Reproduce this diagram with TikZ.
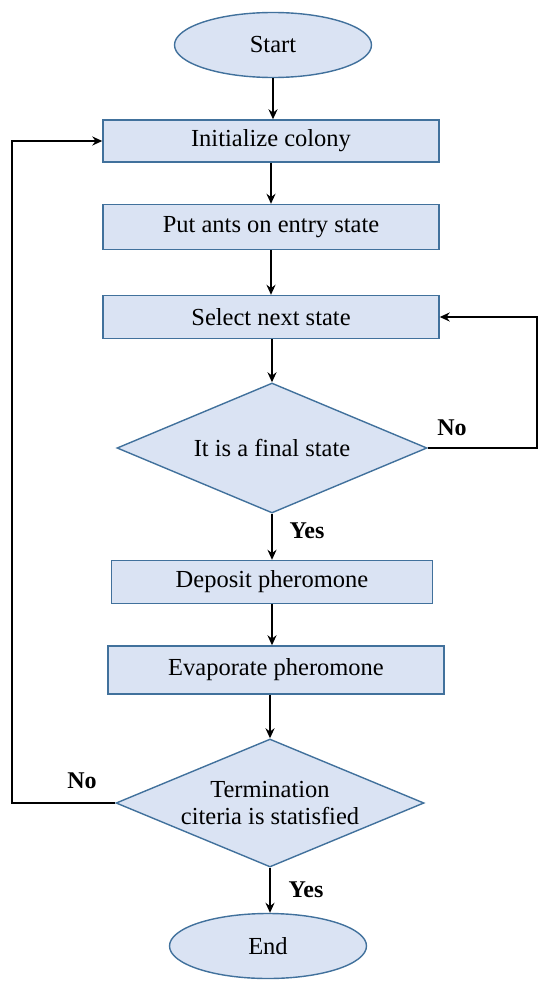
\documentclass[tikz,border=0pt]{standalone}
\usepackage{fontspec}
\setmainfont{Liberation Serif}
\usetikzlibrary{shapes.geometric,arrows.meta}
\definecolor{boxfill}{HTML}{DAE3F3}
\definecolor{boxline}{RGB}{65,113,156}
\begin{document}
\begin{tikzpicture}[x=1pt,y=-1pt,
  every node/.style={font=\fontsize{24.5}{27}\selectfont},
  procbox/.style={draw=boxline,fill=boxfill,line width=1.4pt,rectangle,inner sep=0pt},
  termnode/.style={draw=boxline,fill=boxfill,line width=1.4pt,ellipse,inner sep=0pt,minimum width=197pt,minimum height=65pt},
  decnode/.style={draw=boxline,fill=boxfill,line width=1.4pt,diamond,aspect=2.385,inner sep=0pt,align=center},
  arr/.style={draw=black,line width=2.2pt,-{Stealth[length=10pt,width=9pt]}},
  lbl/.style={font=\fontsize{24}{27}\selectfont\bfseries}]
\useasboundingbox (0,0) rectangle (550,987);
\node[termnode] (start) at (273,45) {Start};
\node[procbox,minimum width=336pt,minimum height=42pt] (init) at (271,141) {Initialize colony};
\node[procbox,minimum width=336pt,minimum height=45pt] (put) at (271,227) {Put ants on entry state};
\node[procbox,minimum width=336pt,minimum height=43pt] (select) at (271,317) {Select next state};
\node[decnode,minimum width=310pt,minimum height=130pt] (dec1) at (272,448) {It is a final state};
\node[procbox,minimum width=321pt,minimum height=43pt] (deposit) at (272,582) {Deposit pheromone};
\node[procbox,minimum width=336pt,minimum height=48pt] (evap) at (276,670) {Evaporate pheromone};
\node[decnode,minimum width=308pt,minimum height=128pt] (dec2) at (270,803) {Termination\\citeria is statisfied};
\node[termnode] (end) at (268,946) {End};
\coordinate (r1) at (537,448);
\coordinate (r2) at (537,317);
\coordinate (l1) at (12,803);
\coordinate (l2) at (12,141);
\draw[arr] (start.south) -- (start.south |- init.north);
\draw[arr] (init.south) -- (init.south |- put.north);
\draw[arr] (put.south) -- (put.south |- select.north);
\draw[arr] (select.south -| dec1.north) -- (dec1.north);
\draw[arr] (dec1.south) -- (dec1.south |- deposit.north);
\draw[arr] (deposit.south) -- (deposit.south |- evap.north);
\draw[arr] (dec2.north |- evap.south) -- (dec2.north);
\draw[arr] (dec2.south) -- (dec2.south |- end.north);
\draw[arr] (dec1.east) -- (r1) -- (r2) -- (select.east);
\draw[arr] (dec2.west) -- (l1) -- (l2) -- (init.west);
\node[lbl] (no1) at (452,428) {No};
\node[lbl] (yes1) at (307,531) {Yes};
\node[lbl] (no2) at (82,781) {No};
\node[lbl] (yes2) at (306,890) {Yes};
\end{tikzpicture}
\end{document}
